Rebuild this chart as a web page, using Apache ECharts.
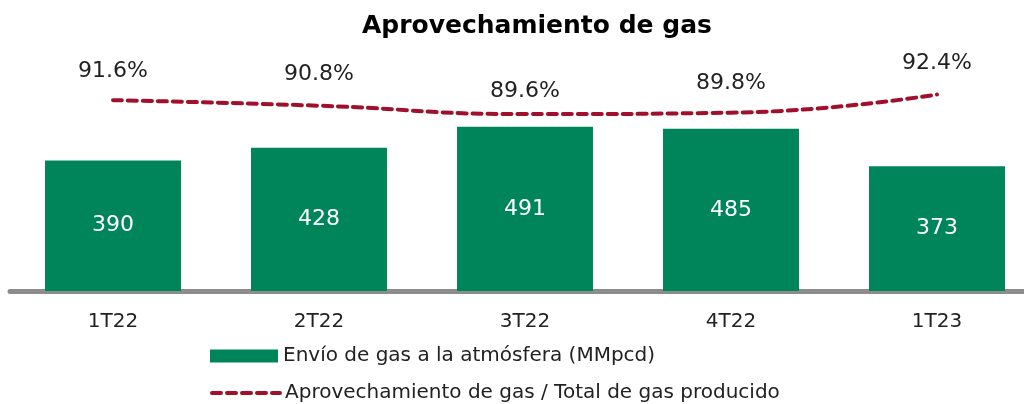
<!DOCTYPE html>
<html>
<head>
<meta charset="utf-8">
<script src="https://cdn.jsdelivr.net/npm/echarts@6/dist/echarts.min.js"></script>
<style>
  html, body { margin: 0; padding: 0; background: #fff; }
  #grafica { width: 1024px; height: 404px; }
</style>
</head>
<body>
<div id="grafica"></div>
<script>
// datos
const trimestres = ["1T22", "2T22", "3T22", "4T22", "1T23"];
const envioGas = [390, 428, 491, 485, 373];
const aprovechamiento = [91.6, 90.8, 89.6, 89.8, 92.4];

// desplazamiento vertical de cada etiqueta de porcentaje (px)
const ajusteEtiquetas = [3, 1, 9, 3, 1];

const nombreBarras = "Envío de gas a la atmósfera (MMpcd)";
const nombreLinea = "Aprovechamiento de gas / Total de gas producido";

const fuente = "DejaVu Sans";
const verde = "#00855A";
const rojo = "#A0102C";

const grafica = echarts.init(document.getElementById("grafica"));

const estiloLeyenda = {
  orient: "vertical",
  left: 205,
  itemWidth: 68,
  itemHeight: 13,
  textStyle: { fontFamily: fuente, fontSize: 20, color: "#222" },
};

const opcion = {
  backgroundColor: "#fff",
  animation: false,
  title: {
    text: "Aprovechamiento de gas",
    left: 357,
    top: 9,
    textStyle: { fontFamily: fuente, fontSize: 25, fontWeight: "bold", color: "#000" },
  },
  legend: [
    Object.assign({}, estiloLeyenda, {
      top: 341,
      data: [{ name: nombreBarras, icon: "rect" }],
    }),
    Object.assign({}, estiloLeyenda, {
      top: 378,
      data: [
        {
          name: nombreLinea,
          itemStyle: { color: "transparent", borderWidth: 0 },
          lineStyle: { color: rojo, width: 4, type: [9, 6], cap: "round" },
        },
      ],
    }),
  ],
  grid: { left: 10, top: 40, width: 1030, height: 251, outerBoundsMode: "none" },
  xAxis: {
    type: "category",
    data: trimestres,
    axisTick: { show: false },
    axisLine: { lineStyle: { color: "#8c8c8c", width: 5 } },
    axisLabel: { fontFamily: fuente, fontSize: 20, color: "#222", margin: 21 },
  },
  yAxis: [
    { type: "value", min: 0, max: 750, show: false, splitLine: { show: false } },
    { type: "value", min: 64.3, max: 100.2, show: false, splitLine: { show: false } },
  ],
  series: [
    {
      name: nombreBarras,
      type: "bar",
      data: envioGas,
      barWidth: "66%",
      itemStyle: { color: verde },
      label: {
        show: true,
        position: "inside",
        fontFamily: fuente,
        fontSize: 22,
        color: "#fff",
      },
    },
    {
      name: nombreLinea,
      type: "line",
      yAxisIndex: 1,
      data: aprovechamiento.map((v, i) => ({
        value: v,
        label: { offset: [0, ajusteEtiquetas[i]] },
      })),
      smooth: true,
      symbol: "circle",
      symbolSize: 2,
      itemStyle: { color: "transparent", borderWidth: 0 },
      lineStyle: { color: rojo, width: 4, type: [9, 6], cap: "round" },
      label: {
        show: true,
        position: "top",
        distance: 20,
        fontFamily: fuente,
        fontSize: 22,
        color: "#222",
        formatter: (p) => p.value.toFixed(1) + "%",
      },
    },
  ],
};

grafica.setOption(opcion);
</script>
</body>
</html>
